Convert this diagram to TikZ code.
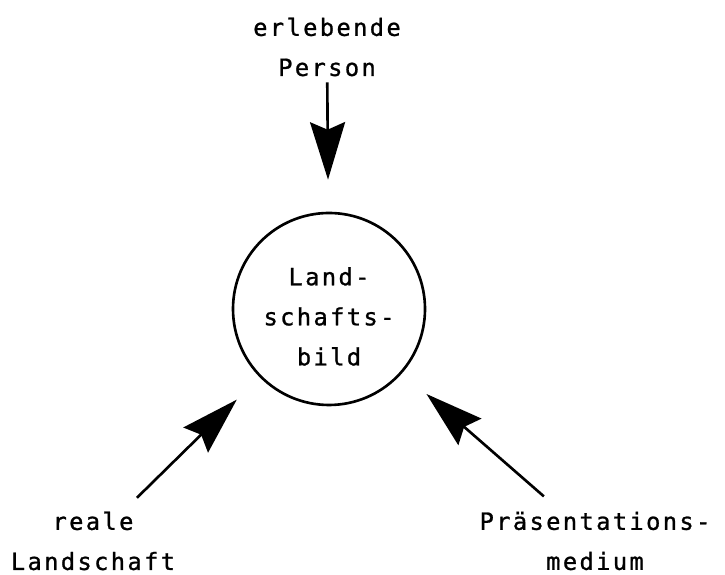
\documentclass[tikz,border=0pt]{standalone}
\usepackage{fontspec}
\newfontfamily\schreibmaschine[LetterSpace=10, FakeBold=1]{DejaVu Sans Mono}
\usetikzlibrary{arrows.meta}
\tikzset{
	beschriftung/.style={font={\schreibmaschine\fontsize{13.5}{22.8}\selectfont}, align=center},
	kreis/.style={circle, draw, line width=1.5pt, minimum size=3.84cm, inner sep=0pt},
	pfeil/.style={line width=1.5pt, -{Stealth[length=1.15cm, width=0.7cm, inset=0.15cm]}, shorten >=0.64cm}
}

\begin{document}
\begin{tikzpicture}
			%%%%% START %%%%%
			
			\useasboundingbox (0, 0) rectangle (14.5, 11.5);
			
			\node[kreis, beschriftung] (bild) at (6.58, 5.32) {\rule{0pt}{0.66cm}Land-\\schafts-\\bild};
			
			\node[beschriftung] (person) at (6.54, 10.56) {erlebende\\Person};
			\node[beschriftung] (real) at (1.86, 0.68) {reale\\Landschaft};
			\node[beschriftung] (medium) at (11.9, 0.68) {Präsentations-\\medium};
			
			\draw[pfeil] (person) -- (bild);
			\draw[pfeil, shorten <=0.22cm] (real) -- (bild);
			\draw[pfeil, shorten <=0.28cm] (medium) -- (bild);
			
			%%%%% END %%%%%
		\end{tikzpicture}
\end{document}
